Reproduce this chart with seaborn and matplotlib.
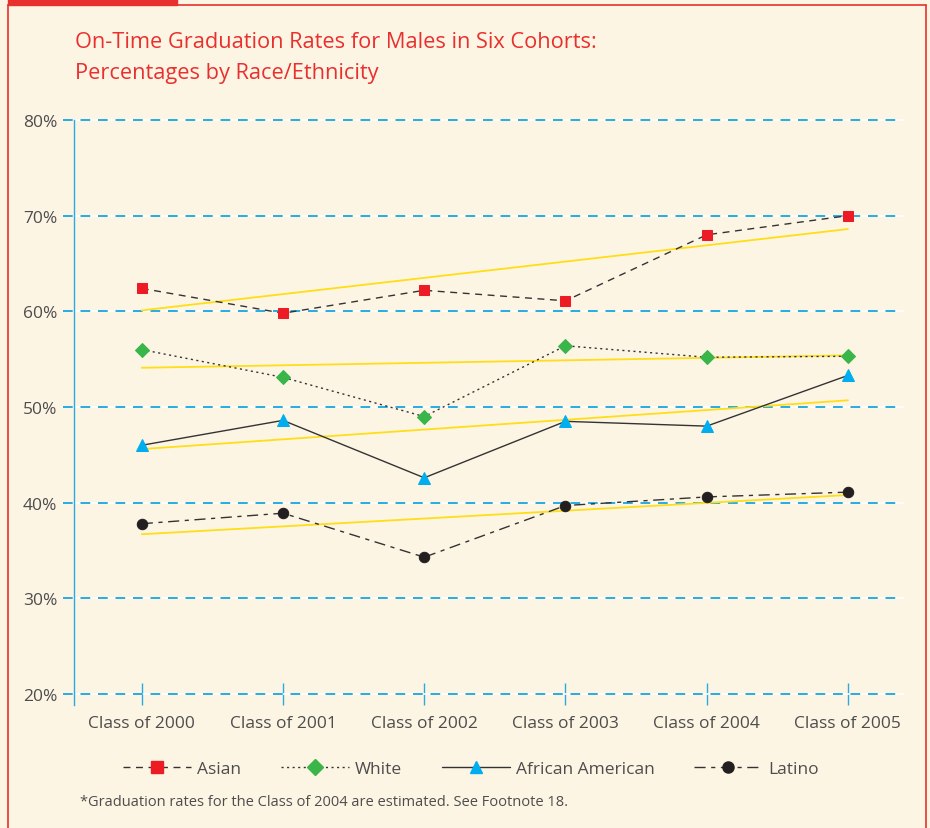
import numpy as np
import pandas as pd
import matplotlib
matplotlib.use("Agg")
import matplotlib.pyplot as plt
import seaborn as sns
from matplotlib.lines import Line2D
from matplotlib.patches import Rectangle

# data
cohorts = ["Class of 2000", "Class of 2001", "Class of 2002", "Class of 2003", "Class of 2004", "Class of 2005"]
asian = [62.4, 59.8, 62.2, 61.1, 68.0, 70.0]
white = [56.0, 53.1, 49.0, 56.4, 55.2, 55.3]
african_american = [46.0, 48.6, 42.6, 48.5, 48.0, 53.3]
latino = [37.8, 38.9, 34.3, 39.7, 40.6, 41.1]
# yellow trend lines (value at first and last cohort)
trend_start = [60.1, 54.1, 45.6, 36.7]
trend_end = [68.6, 55.4, 50.7, 40.8]
yticks = [20, 30, 40, 50, 60, 70, 80]

bg = "#FDF5E4"
red = "#E8302E"
grid_blue = "#29ABE2"
txt = "#4D4D4D"

sns.set_theme(style="white")
plt.rcParams['font.family'] = ['Open Sans', 'DejaVu Sans']

fig = plt.figure(figsize=(9.3, 8.29), dpi=100, facecolor=bg)
ax = fig.add_axes([74 / 930, 1 - 706 / 829, (903 - 74) / 930, (706 - 121) / 829])
ax.set_facecolor(bg)

df = pd.DataFrame({"cohort": cohorts, "Asian": asian, "White": white,
                   "African American": african_american, "Latino": latino})

series = [
    ("Asian", (0, (5, 4)), "s", "#ED1C24"),
    ("White", (0, (1.5, 2.5)), "D", "#39B54A"),
    ("African American", "-", "^", "#00AEEF"),
    ("Latino", (0, (8, 4, 3, 4)), "o", "#231F20"),
]

# gridlines: blue dashes over a thin white line, sticking out left of the axis
for y in yticks:
    ax.axhline(y, xmin=-0.013, xmax=1, color="white", lw=1.2, clip_on=False, zorder=1)
    ax.axhline(y, xmin=-0.013, xmax=1, color=grid_blue, lw=1.4, ls=(0, (5, 4)), clip_on=False, zorder=1.5)

x = np.arange(len(cohorts))
for i, (name, ls, mk, col) in enumerate(series):
    sns.lineplot(x=[x[0], x[-1]], y=[trend_start[i], trend_end[i]], ax=ax,
                 color="#FFDE17", lw=1.3, zorder=2)
    sns.lineplot(x=x, y=df[name], ax=ax, color="#333333", lw=1.0, linestyle=ls,
                 marker=mk, markersize=7.5 if mk != "^" else 8.5, markerfacecolor=col,
                 markeredgecolor=col, zorder=3)

ax.set_xlim(-0.48, 5.39)
ax.set_ylim(18.85, 80)
ax.set_yticks(yticks)
ax.set_yticklabels([f"{v}%" for v in yticks], color=txt, fontsize=12.5)
ax.set_xticks(x)
ax.set_xticklabels(cohorts, color=txt, fontsize=12.5)
ax.tick_params(axis="x", bottom=True, direction="in", length=16, width=1, color=grid_blue, pad=7)
ax.tick_params(axis="y", length=0, pad=12)
ax.set_xlabel("")
ax.set_ylabel("")
for s in ["top", "right", "bottom"]:
    ax.spines[s].set_visible(False)
ax.spines["left"].set_color(grid_blue)
ax.spines["left"].set_linewidth(1)

# title
fig.text(75 / 930, 1 - 42 / 829, "On-Time Graduation Rates for Males in Six Cohorts:",
         color=red, fontsize=15.7, va="center", ha="left")
fig.text(75 / 930, 1 - 73 / 829, "Percentages by Race/Ethnicity",
         color=red, fontsize=15.7, va="center", ha="left")

# legend
handles = [Line2D([], [], color="#333333", lw=1.0, linestyle=ls, marker=mk, markersize=8,
                  markerfacecolor=col, markeredgecolor=col) for name, ls, mk, col in series]
labels = [s[0] for s in series]
leg = fig.legend(handles, labels, loc="center", bbox_to_anchor=(471 / 930, 1 - 770 / 829),
                 ncol=4, frameon=False, handlelength=3.9, numpoints=1, columnspacing=2.3,
                 handletextpad=0.35, fontsize=12.5)
for t in leg.get_texts():
    t.set_color(txt)

fig.text(80 / 930, 1 - 803 / 829,
         "*Graduation rates for the Class of 2004 are estimated. See Footnote 18.",
         color=txt, fontsize=10.5, va="center", ha="left")

# red frame
fig.add_artist(Line2D([8 / 930, 8 / 930], [0, 1 - 6 / 829], color=red, lw=1.2, transform=fig.transFigure))
fig.add_artist(Line2D([8 / 930, 926 / 930], [1 - 6 / 829, 1 - 6 / 829], color=red, lw=1.2, transform=fig.transFigure))
fig.add_artist(Line2D([926 / 930, 926 / 930], [0, 1 - 6 / 829], color=red, lw=1.2, transform=fig.transFigure))
fig.add_artist(Rectangle((8 / 930, 1 - 6 / 829), (177 - 8) / 930, 6 / 829, color=red,
                         transform=fig.transFigure))

fig.savefig("out.png", dpi=100, facecolor=bg)
